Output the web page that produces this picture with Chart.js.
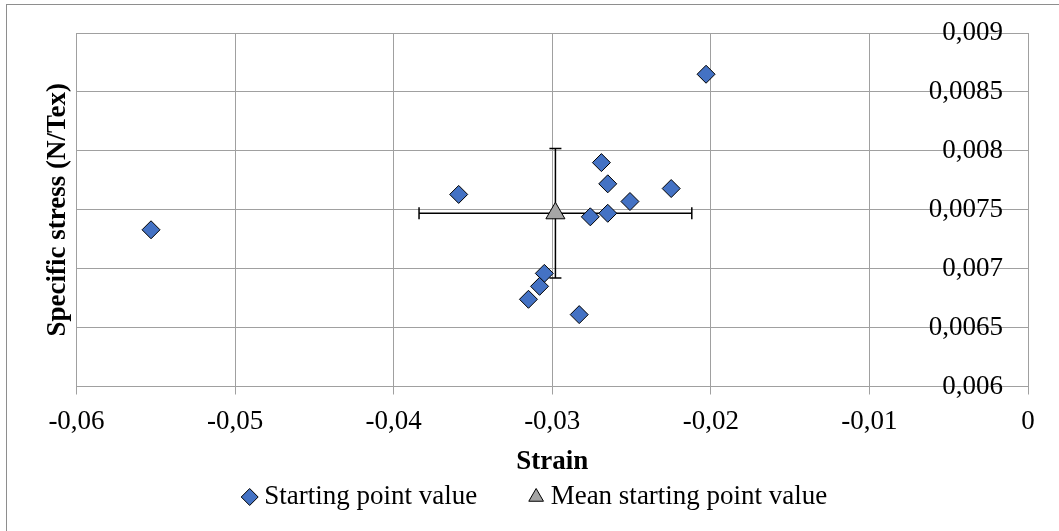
<!DOCTYPE html>
<html>
<head>
<meta charset="utf-8">
<script src="https://cdn.jsdelivr.net/npm/chart.js@4.4.1/dist/chart.umd.min.js"></script>
<style>
  body { margin: 0; background: #fff; overflow: hidden; }
  #wrap { position: relative; width: 1059px; height: 531px; overflow: hidden; }
  #frame { position: absolute; left: 6px; top: 4px; width: 1200px; height: 700px; border: 1px solid #8e8e8e; }
  #chart { position: absolute; left: 0; top: 0; }
</style>
</head>
<body>
<div id="wrap">
  <div id="frame"></div>
  <canvas id="chart" width="1059" height="531"></canvas>
</div>
<script>
// Starting point of each test: strain / specific stress
const strain = [-0.0553, -0.0359, -0.0269, -0.0265, -0.0225, -0.0251, -0.0265,
                -0.0276, -0.0305, -0.0308, -0.0315, -0.0283, -0.0203];
const stress = [0.00733, 0.00763, 0.00790, 0.00772, 0.00768, 0.00757, 0.00747,
                0.00744, 0.00696, 0.00685, 0.00674, 0.00661, 0.00865];

// Mean starting point with its standard deviation both ways
const meanStrain = [-0.0298];
const meanStress = [0.00747];
const strainSd = [0.0086];
const stressSd = [0.00055];

// Axis ticks
const strainTicks = [-0.06, -0.05, -0.04, -0.03, -0.02, -0.01, 0];
const stressTicks = [0.006, 0.0065, 0.007, 0.0075, 0.008, 0.0085, 0.009];

const serif = "'Liberation Serif', 'Times New Roman', serif";
const gridColor = '#a0a0a0';

function toComma(v, digits) {
  return String(+v.toFixed(digits)).replace('.', ',');
}

// cross-shaped error bars behind the mean marker
const errorBars = {
  id: 'errorBars',
  beforeDatasetsDraw(chart) {
    const { ctx, scales: { x, y } } = chart;
    const cap = 6;
    ctx.save();
    ctx.strokeStyle = '#000';
    ctx.lineWidth = 1.5;
    meanStrain.forEach((mx, i) => {
      const px = x.getPixelForValue(mx);
      const py = y.getPixelForValue(meanStress[i]);
      const xl = x.getPixelForValue(mx - strainSd[i]);
      const xr = x.getPixelForValue(mx + strainSd[i]);
      const yt = y.getPixelForValue(meanStress[i] + stressSd[i]);
      const yb = y.getPixelForValue(meanStress[i] - stressSd[i]);
      ctx.beginPath();
      ctx.moveTo(xl, py); ctx.lineTo(xr, py);
      ctx.moveTo(xl, py - cap); ctx.lineTo(xl, py + cap);
      ctx.moveTo(xr, py - cap); ctx.lineTo(xr, py + cap);
      ctx.moveTo(px, yt); ctx.lineTo(px, yb);
      ctx.moveTo(px - cap, yt); ctx.lineTo(px + cap, yt);
      ctx.moveTo(px - cap, yb); ctx.lineTo(px + cap, yb);
      ctx.stroke();
    });
    ctx.restore();
  }
};

// pull the legend up under the axis title
const legendPlacement = {
  id: 'legendPlacement',
  afterLayout(chart) {
    const lg = chart.legend;
    lg.top -= 53;
    lg.left += 21;
    lg.right += 21;
  }
};

const ctx = document.getElementById('chart').getContext('2d');
new Chart(ctx, {
  type: 'scatter',
  data: {
    datasets: [
      {
        label: 'Starting point value',
        data: strain.map((s, i) => ({ x: s, y: stress[i] })),
        yAxisID: 'y',
        pointStyle: 'rectRot',
        pointRadius: 9,
        backgroundColor: '#4472c4',
        borderColor: '#000',
        borderWidth: 1
      },
      {
        label: 'Mean starting point value',
        data: meanStrain.map((s, i) => ({ x: s, y: meanStress[i] })),
        yAxisID: 'y',
        pointStyle: 'triangle',
        pointRadius: 11,
        backgroundColor: '#a5a5a5',
        borderColor: '#000',
        borderWidth: 1
      }
    ]
  },
  options: {
    responsive: false,
    animation: false,
    devicePixelRatio: 1,
    layout: { padding: { left: 6, top: 33, right: 31, bottom: -1.5 } },
    scales: {
      x: {
        type: 'linear',
        position: 'bottom',
        min: strainTicks[0],
        max: strainTicks[strainTicks.length - 1],
        afterBuildTicks: (scale) => { scale.ticks = strainTicks.map(v => ({ value: v })); },
        afterFit: (scale) => { scale.height = 92; },
        grid: { color: gridColor, lineWidth: 1, drawTicks: true, tickLength: 8, tickColor: gridColor },
        border: { color: gridColor, width: 1 },
        ticks: {
          color: '#000',
          padding: 11,
          maxRotation: 0,
          font: { family: serif, size: 27 },
          callback: (v) => toComma(v, 2)
        },
        title: {
          display: true,
          text: 'Strain',
          color: '#000',
          padding: 0,
          font: { family: serif, size: 27, weight: 'bold' }
        }
      },
      y: {
        type: 'linear',
        position: 'right',
        min: stressTicks[0],
        max: stressTicks[stressTicks.length - 1],
        afterBuildTicks: (scale) => { scale.ticks = stressTicks.map(v => ({ value: v })); },
        afterFit: (scale) => { scale.width = 0; },
        grid: { color: gridColor, lineWidth: 1, drawTicks: false },
        border: { color: gridColor, width: 1 },
        ticks: {
          mirror: true,
          padding: -25,
          color: '#000',
          font: { family: serif, size: 27 },
          callback: (v) => toComma(v, 4)
        }
      },
      // left-hand axis that only carries the stress title
      yTitle: {
        type: 'linear',
        position: 'left',
        afterFit: (scale) => { scale.width = 70.5; },
        grid: { display: false, drawTicks: false },
        border: { display: false },
        ticks: { display: false },
        title: {
          display: true,
          text: 'Specific stress (N/Tex)',
          color: '#000',
          padding: { top: 36, bottom: 0 },
          font: { family: serif, size: 27, weight: 'bold' }
        }
      }
    },
    plugins: {
      legend: {
        display: true,
        position: 'bottom',
        maxHeight: 54,
        labels: {
          usePointStyle: true,
          boxWidth: 2,
          boxHeight: 12,
          padding: 58,
          color: '#000',
          font: { family: serif, size: 27 }
        }
      },
      tooltip: { enabled: false }
    }
  },
  plugins: [errorBars, legendPlacement]
});
</script>
</body>
</html>
